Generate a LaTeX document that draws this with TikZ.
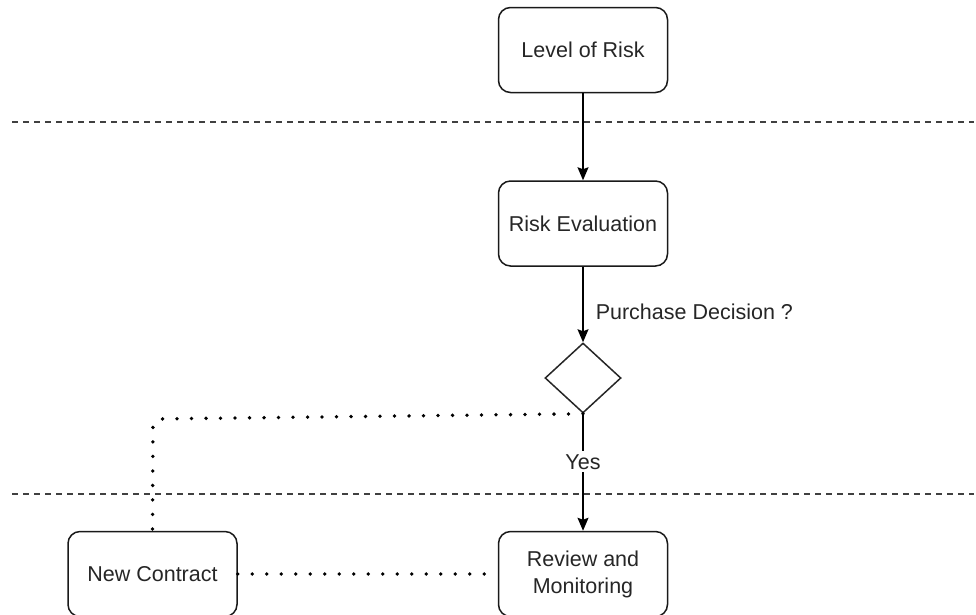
\documentclass[tikz,border=0pt]{standalone}
\usepackage{fontspec}
\setmainfont{Liberation Sans}
\usetikzlibrary{shapes.geometric,arrows.meta}
\begin{document}
\begin{tikzpicture}[x=1pt,y=-1pt,
  font=\fontsize{21.5}{27}\selectfont,
  stepbox/.style={draw=black!90, line width=1.5pt, rounded corners=12pt,
    minimum width=169pt, minimum height=85pt, align=center, inner sep=2pt,
    text=black!85},
  choice/.style={draw=black!85, line width=1.5pt, diamond,
    minimum width=76pt, minimum height=70pt, inner sep=0pt},
  flow/.style={draw=black, line width=1.5pt,
    -{Stealth[length=13pt,width=11pt,inset=2pt]}},
  dotline/.style={draw=black, line width=3.8pt, line cap=round,
    dash pattern=on 0pt off 14.5pt},
  lane/.style={draw=black!75, line width=1.7pt, dash pattern=on 6pt off 5pt},
  tag/.style={text=black!85, inner sep=1pt}]
  \useasboundingbox (0,0) rectangle (976,614);

  % lane separators
  \coordinate (l1a) at (12,122);  \coordinate (l1b) at (974,122);
  \coordinate (l2a) at (12,494);  \coordinate (l2b) at (974,494);
  \draw[lane] (l1a) -- (l1b);
  \draw[lane] (l2a) -- (l2b);

  % process steps
  \node[stepbox] (lor) at (583,50)    {Level of Risk};
  \node[stepbox] (re)  at (583,223.5) {Risk Evaluation};
  \node[choice]  (dia) at (583,378)   {};
  \node[stepbox] (nc)  at (152.5,574) {New Contract};
  \node[stepbox] (rm)  at (583,574)   {Review and\\Monitoring};

  % main flow
  \draw[flow] (lor.south) -- (re.north);
  \draw[flow] (re.south) -- (dia.north)
    node[tag, pos=0.6, anchor=west, xshift=11pt] (lbl) {Purchase Decision ?};
  \draw[flow] (dia.south) -- (rm.north)
    node[tag, pos=0.41, fill=white, inner sep=3pt] (yes) {Yes};

  % dotted links to the new contract
  \coordinate (bend) at (153,419);
  \draw[dotline, rounded corners=8pt] (dia.south) -- (bend) -- (nc.north);
  \draw[dotline] (nc.east) -- (rm.west);
\end{tikzpicture}
\end{document}
